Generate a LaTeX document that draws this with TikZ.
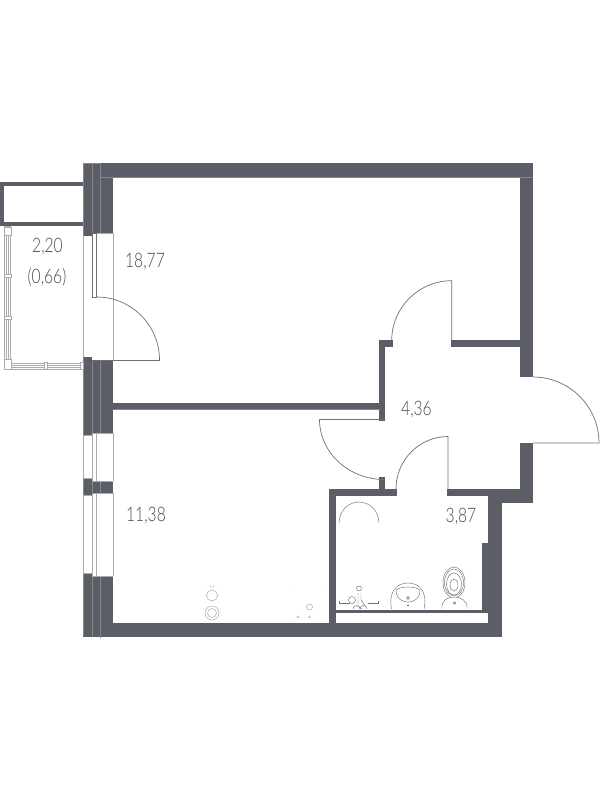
\documentclass[tikz,border=0pt]{standalone}
\usepackage{fontspec}
\setmainfont{Lato}[UprightFont=* Light,FakeStretch=0.78]
\definecolor{wallc}{HTML}{5B5E66}
\definecolor{edgec}{HTML}{A9ABAF}
\definecolor{seamc}{HTML}{83868B}
\definecolor{linec}{HTML}{6E7076}
\definecolor{textc}{HTML}{45484F}
\tikzset{
  wall/.style={fill=wallc,draw=none},
  seam/.style={draw=seamc,line width=0.5pt},
  glass/.style={draw=edgec,line width=1pt,fill=white},
  door/.style={draw=linec,line width=0.7pt},
  fixture/.style={draw=linec,line width=0.45pt},
  faint/.style={draw=edgec,line width=0.5pt},
  area/.style={text=textc,font=\fontsize{20}{24}\selectfont,inner sep=0pt}
}
\begin{document}
\begin{tikzpicture}[x=1pt,y=-1pt]
\useasboundingbox (0,0) rectangle (600,800);
% outer walls
\fill[wall] (83,163) rectangle (533,177);
\fill[wall] (519.5,163) rectangle (533,377);
\fill[wall] (83,163) rectangle (92,236);
\fill[wall] (92,163) rectangle (113,233);
\fill[wall] (83,357) rectangle (92,435);
\fill[wall] (92,360) rectangle (113,433);
\fill[wall] (83,478) rectangle (92,495);
\fill[wall] (92,481) rectangle (113,493);
\fill[wall] (83,573) rectangle (92,637);
\fill[wall] (92,576) rectangle (113,637);
\fill[wall] (83,623) rectangle (502,637);
% inner walls
\fill[wall] (113,403) rectangle (380,409.5);
\fill[wall] (379,340) rectangle (385,421);
\fill[wall] (379,340) rectangle (393,346.5);
\fill[wall] (451,340) rectangle (520,346.5);
\fill[wall] (519.5,443) rectangle (533,502);
\fill[wall] (488,489) rectangle (533,503);
\fill[wall] (488,489) rectangle (502,637);
\fill[wall] (329,489) rectangle (397,495.5);
\fill[wall] (447,489) rectangle (488,495.5);
\fill[wall] (329,489) rectangle (335.5,623);
\fill[wall] (379,477) rectangle (385,489);
\fill[wall] (482,543) rectangle (488,613);
\fill[wall] (335,609.5) rectangle (488,613);
% wall seams
\draw[seam] (83.3,163) -- (83.3,636) (92,163) -- (92,236) (92,360) -- (92,435) (92,481) -- (92,493) (92,576) -- (92,637) (100,163) -- (100,233) (100,360) -- (100,433) (100,481) -- (100,493) (100,576) -- (100,638);
\draw[seam] (100,177) -- (113,177) (83,163) -- (100,163);
\draw[seam] (113,177) -- (533,177) (113,409.5) -- (380,409.5);
% balcony door opening
\draw[faint] (83.5,236) -- (83.5,357) (113,233) -- (113,360) (92,233) -- (113,233);
\fill[white,draw=linec,line width=0.6pt] (92,233) rectangle (96.5,297);
\draw[door] (96.5,297) arc[start angle=270,end angle=360,radius=63];
\draw[door] (92,360) -- (159.5,360);
% windows lower
\foreach \ya/\yb/\yc/\yd in {435/478/433/481,495/573/493/576}{
  \draw[glass,line width=0.7pt] (83.5,\ya) rectangle (92,\yb);
  \draw[glass,line width=0.7pt] (92,\yc) rectangle (96.5,\yd);
  \draw[faint,line width=1pt] (96.5,\yc) -- (113,\yc) (96.5,\yd) -- (113,\yd);
  \draw[faint,line width=1pt] (113,\yc) -- (113,\yd);
}
% balcony
\fill[wall] (0,182) rectangle (83,186);
\fill[wall] (0,222) rectangle (83,226);
\fill[wall] (0,182) rectangle (4,226);
\draw[glass,line width=0.8pt] (4,226) rectangle (10.5,369);
\draw[glass,line width=0.8pt] (4,363) rectangle (83,369);
\draw[faint] (6.5,230) -- (6.5,361) (8.5,230) -- (8.5,361) (8,365) -- (80,365) (8,367) -- (80,367);
\foreach \yy in {276,318}{\draw[glass,line width=0.8pt] (4.5,\yy-1.5) rectangle (11.5,\yy+1.5);}
\draw[glass,line width=0.8pt] (4.5,227) rectangle (11,235);
\draw[glass,line width=0.8pt] (4.5,359) rectangle (11.5,369);
\draw[glass,line width=0.8pt] (44.5,362) rectangle (47.5,369);
\draw[glass,line width=0.8pt] (80,362) rectangle (83,369);
% doors
\draw[door] (451.7,340) -- (451.7,280.7) arc[start angle=270,end angle=180,radius=60];
\draw[door] (533,377) arc[start angle=270,end angle=360,radius=66] -- (533,443);
\draw[door] (385,419.5) -- (319.5,419.5) arc[start angle=180,end angle=90,x radius=65,y radius=60];
\draw[door] (448,489) -- (448,436.5) arc[start angle=270,end angle=180,x radius=52,y radius=52.5];
% bath
\draw[fixture] (339,523) arc[start angle=180,end angle=360,x radius=20,y radius=21];
% sink
\draw[fixture] (391.5,609) .. controls (388,590) and (398,583) .. (408,583) .. controls (418,583) and (428,590) .. (424,609);
\draw[fixture] (396,590) .. controls (401,586) and (415,586) .. (420,590) .. controls (420,600) and (412,602) .. (408,602) .. controls (404,602) and (396,600) .. (396,590) -- cycle;
\draw[fixture] (408,598) circle[radius=1.5];
\fill[linec] (408,605.5) circle[radius=1];
% toilet
\draw[fixture] (454,582.5) ellipse[x radius=11,y radius=15.5];
\draw[fixture] (454,582.5) ellipse[x radius=9.5,y radius=13.5];
\draw[fixture] (454,584) ellipse[x radius=7.5,y radius=11];
\draw[fixture] (454,585) ellipse[x radius=4,y radius=6];
\draw[fixture,fill=white] (442,609) .. controls (441,600) and (448,597) .. (454,597) .. controls (460,597) and (468,600) .. (467,609);
\draw[fixture] (454.5,603) circle[radius=1.2];
% tap
\draw[fixture] (359,588.5) circle[radius=2.5];
\draw[fixture] (352,600) circle[radius=3.5];
\draw[fixture] (339,601) -- (339,603) -- (350,603) (368,603) -- (378,603) -- (378,601);
\draw[fixture] (358,593) -- (358,606) -- (362,609) (361,593) -- (361,600) -- (365,606);
\draw[fixture] (353,609) arc[start angle=180,end angle=360,radius=3.5] (360,609) arc[start angle=180,end angle=360,radius=3.5];
% hob
\draw[faint] (212,595.5) circle[radius=5.5];
\draw[faint] (212,613) circle[radius=7];
\draw[faint] (212,613) circle[radius=4.5];
\fill[edgec] (210.3,586.5) circle[radius=0.6] (213.5,586.5) circle[radius=0.6];
\draw[faint] (309.5,607) circle[radius=3];
\draw[faint,line width=0.4pt] (298,617) circle[radius=1.2] (309.5,617) circle[radius=1.2];
\fill[edgec!60] (294,587) circle[radius=0.4] (294,619) circle[radius=0.4] (327,585) circle[radius=0.4] (327,619) circle[radius=0.4];
% labels
\node[area] (balc) at (47.5,247) {2,20};
\node[area] (balcb) at (47,277) {(0,66)};
\node[area] (room) at (145,262) {18,77};
\node[area] (liv) at (146,515.5) {11,38};
\node[area] (hall) at (416.5,409.5) {4,36};
\node[area] (wc) at (461,516.5) {3,87};
\end{tikzpicture}
\end{document}
